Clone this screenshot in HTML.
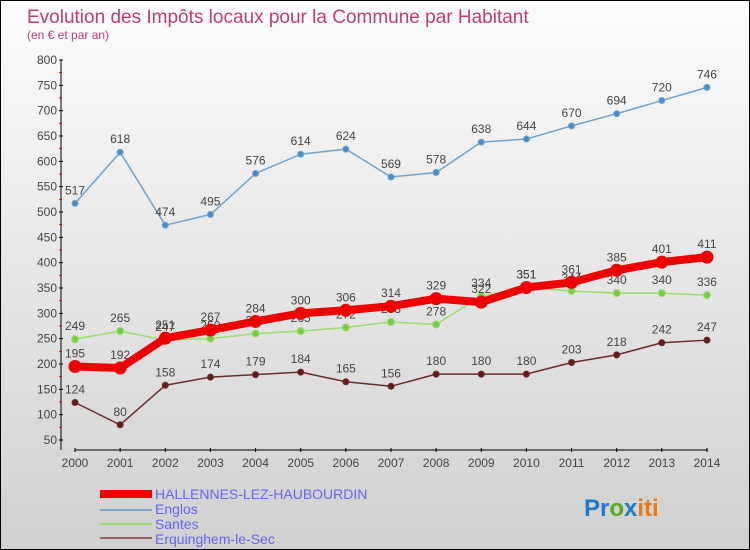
<!DOCTYPE html>
<html><head><meta charset="utf-8"><style>
body{margin:0}
#c{width:748px;height:548px;border:1px solid #000;background:linear-gradient(#fcfcfc,#d0d0d0);position:relative;overflow:hidden;font-family:"Liberation Sans",sans-serif}
</style></head><body>
<div id="c">
<svg id="s" width="748" height="548" xmlns="http://www.w3.org/2000/svg">
<text x="26" y="22" font-size="19" fill="#c0406a">Evolution des Impôts locaux pour la Commune par Habitant</text>
<text x="26" y="38" font-size="12" fill="#c0406a">(en € et par an)</text>
<g id="axes"></g><g id="series"></g>
<g>
<rect x="99" y="489" width="52" height="8" fill="#e00"/>
<text x="154" y="498" font-size="14" fill="#6666ee">HALLENNES-LEZ-HAUBOURDIN</text>
<rect x="99" y="508" width="52" height="2" fill="#7aa8cc"/>
<text x="154" y="513" font-size="14" fill="#6666ee">Englos</text>
<rect x="99" y="522" width="52" height="2" fill="#99dd66"/>
<text x="154" y="528" font-size="14" fill="#6666ee">Santes</text>
<rect x="99" y="536" width="52" height="2" fill="#996666"/>
<text x="154" y="543" font-size="14" fill="#6666ee">Erquinghem-le-Sec</text>
</g>
<text x="583" y="515" font-size="24" font-weight="bold"><tspan fill="#1a7acc">Pr</tspan><tspan fill="#55aa22">o</tspan><tspan fill="#1a7acc">x</tspan><tspan fill="#ee7711">iti</tspan></text>
</svg></div>
<script>
const years=[2000,2001,2002,2003,2004,2005,2006,2007,2008,2009,2010,2011,2012,2013,2014];
const yTicks=[50,100,150,200,250,300,350,400,450,500,550,600,650,700,750,800];
const englos=[517,618,474,495,576,614,624,569,578,638,644,670,694,720,746];
const santes=[249,265,247,250,260,265,272,283,278,334,351,344,340,340,336];
const erquinghem=[124,80,158,174,179,184,165,156,180,180,180,203,218,242,247];
const hallennes=[195,192,251,267,284,300,306,314,329,322,351,361,385,401,411];
const NS="http://www.w3.org/2000/svg";
function X(i){return 74+i*45.14;}
function Y(v){return 439-(v-50)*380/750;}
function mk(t,a,p){const e=document.createElementNS(NS,t);for(const k in a)e.setAttribute(k,a[k]);p.appendChild(e);return e;}
const ax=document.getElementById('axes');
let l=mk('line',{x1:60,y1:Y(800),x2:60,y2:449,stroke:'#000'},ax);


l=mk('line',{x1:74,y1:449,x2:707,y2:449,stroke:'#000'},ax);


yTicks.forEach(v=>{
 mk('line',{x1:58,x2:62,y1:Y(v),y2:Y(v),stroke:'#000'},ax);
 if(v<800)mk('line',{x1:58,x2:61,y1:Y(v+25),y2:Y(v+25),stroke:'#e00'},ax);
 const t=mk('text',{x:56,y:Y(v)+4,'font-size':12,fill:'#444','text-anchor':'end'},ax);t.textContent=v;
 
 
});
years.forEach((y,i)=>{
 mk('line',{x1:X(i),x2:X(i),y1:447,y2:451,stroke:'#000'},ax);
 const t=mk('text',{x:X(i),y:466,'font-size':12,fill:'#444','text-anchor':'middle'},ax);t.textContent=y;
 
 
});
const sg=document.getElementById('series');
function draw(d,name,col,w,r,dot){
 const g=mk('g',{},sg);
 
 
 mk('polyline',{points:d.map((v,i)=>X(i)+','+Y(v)).join(' '),fill:'none',stroke:col,'stroke-width':w,'stroke-linejoin':'round'},g);
 d.forEach((v,i)=>{
  const c=mk('circle',{cx:X(i),cy:Y(v),r:r,fill:dot,stroke:col,'stroke-width':1},g);
  
  
  const t=mk('text',{x:X(i),y:Y(v)-9,'font-size':12,fill:'#444','text-anchor':'middle'},g);t.textContent=v;
  
  
 });
}
draw(englos,'englos','#6fa3cc',1.5,3,'#4a8cc8');
draw(santes,'santes','#99dd66',1.5,3.5,'#77cc44');
draw(erquinghem,'erquinghem','#6b2a2a',1.5,3,'#661a1a');
draw(hallennes,'hallennes','#ee0000',8,6,'#ee0000');
</script>
</body></html>
